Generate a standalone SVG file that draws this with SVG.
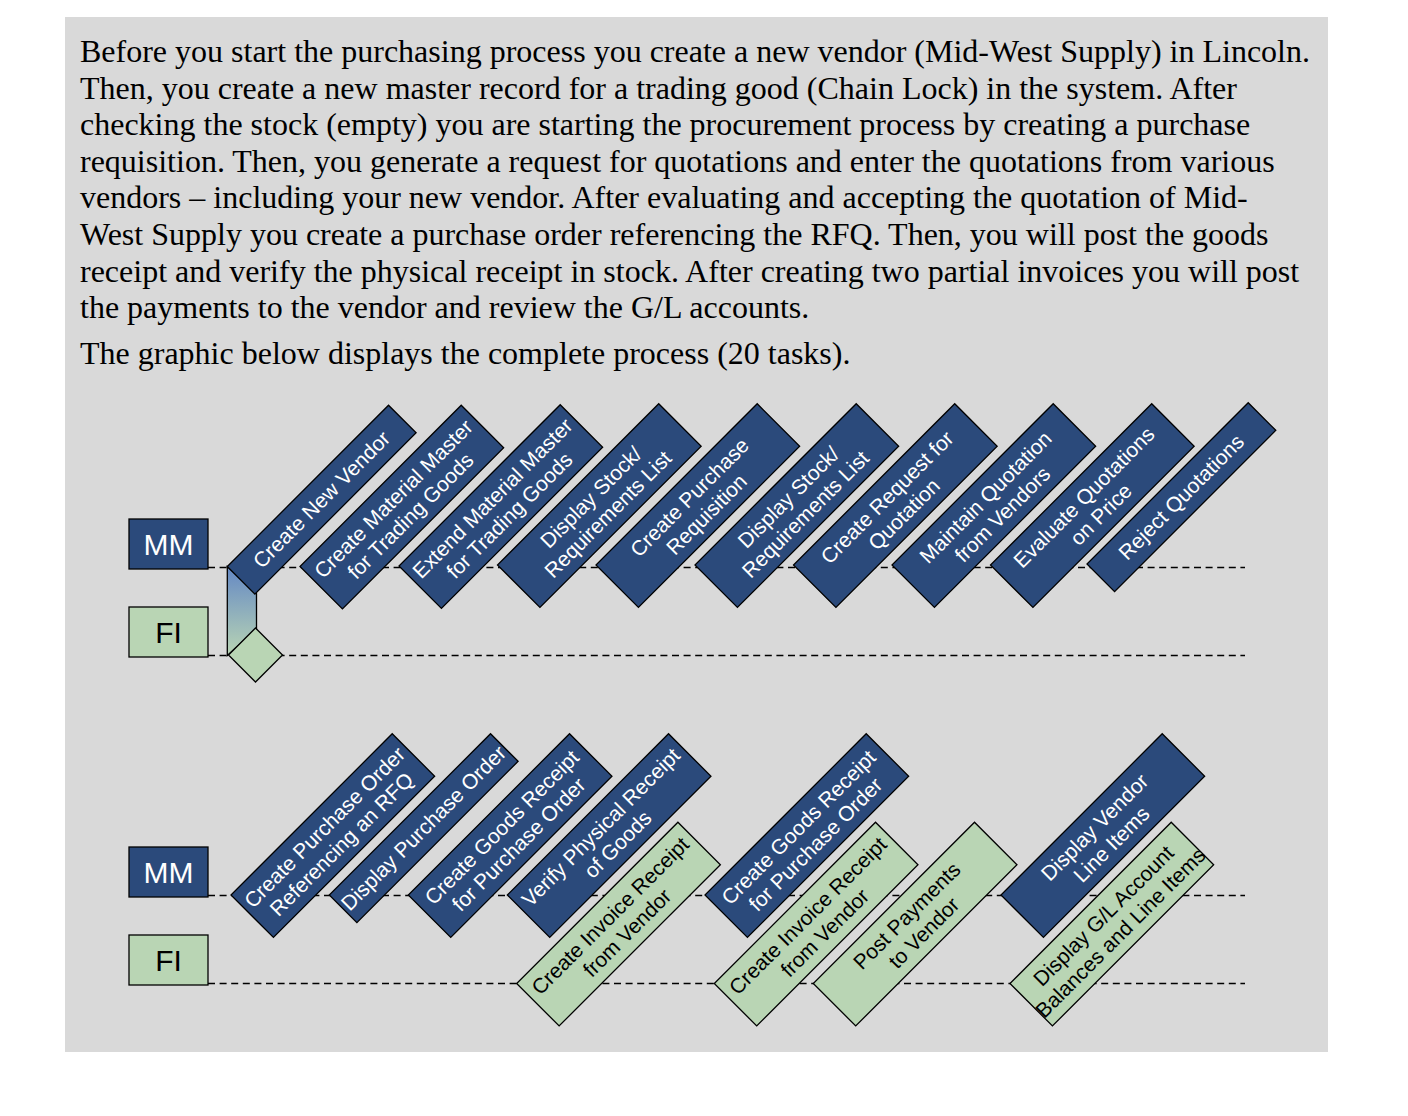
<svg xmlns="http://www.w3.org/2000/svg" width="1408" height="1116" viewBox="0 0 1408 1116">
<defs>
<linearGradient id="grad" x1="0" y1="0" x2="0" y2="1">
<stop offset="0" stop-color="#6488c4"/>
<stop offset="1" stop-color="#b9d5b4"/>
</linearGradient>
<style>
.para{font-family:"Liberation Serif","Times New Roman",serif;font-size:32px;fill:#000}
.lane{stroke:#000;stroke-width:1.3;stroke-dasharray:7 4.6;fill:none}
.blue{fill:#2b4a7b;stroke:#000;stroke-width:1.3}
.green{fill:#b9d5b4;stroke:#000;stroke-width:1.3}
.tw{font-family:"Liberation Sans",Arial,sans-serif;font-size:21px;fill:#fff;text-anchor:middle}
.tb{font-family:"Liberation Sans",Arial,sans-serif;font-size:21px;fill:#000;text-anchor:middle}
.lbl{font-family:"Liberation Sans",Arial,sans-serif;font-size:30px;text-anchor:middle}
</style>
</defs>
<rect x="0" y="0" width="1408" height="1116" fill="#fff"/>
<rect x="65" y="17" width="1263" height="1035" fill="#d9d9d9"/>
<g id="description">
<text class="para" x="80" y="62">Before you start the purchasing process you create a new vendor (Mid-West Supply) in Lincoln.</text>
<text class="para" x="80" y="98.6">Then, you create a new master record for a trading good (Chain Lock) in the system. After</text>
<text class="para" x="80" y="135.2">checking the stock (empty) you are starting the procurement process by creating a purchase</text>
<text class="para" x="80" y="171.8">requisition. Then, you generate a request for quotations and enter the quotations from various</text>
<text class="para" x="80" y="208.4">vendors – including your new vendor. After evaluating and accepting the quotation of Mid-</text>
<text class="para" x="80" y="245">West Supply you create a purchase order referencing the RFQ. Then, you will post the goods</text>
<text class="para" x="80" y="281.6">receipt and verify the physical receipt in stock. After creating two partial invoices you will post</text>
<text class="para" x="80" y="318.2">the payments to the vendor and review the G/L accounts.</text>
<text class="para" x="80" y="363.5">The graphic below displays the complete process (20 tasks).</text>
</g>
<g id="lanes">
<line class="lane" x1="208" y1="567.5" x2="1245" y2="567.5"/>
<line class="lane" x1="208" y1="655.5" x2="1245" y2="655.5"/>
<line class="lane" x1="208" y1="895.5" x2="1245" y2="895.5"/>
<line class="lane" x1="208" y1="983.5" x2="1245" y2="983.5"/>
</g>
<g id="lane-labels">
<g id="lbl-mm1"><rect class="blue" x="129" y="519" width="79" height="50"/><text class="lbl" x="168.5" y="555" fill="#fff">MM</text></g>
<g id="lbl-fi1"><rect class="green" x="129" y="607" width="79" height="50"/><text class="lbl" x="168.5" y="643" fill="#000">FI</text></g>
<g id="lbl-mm2"><rect class="blue" x="129" y="847" width="79" height="50"/><text class="lbl" x="168.5" y="883" fill="#fff">MM</text></g>
<g id="lbl-fi2"><rect class="green" x="129" y="935" width="79" height="50"/><text class="lbl" x="168.5" y="971" fill="#000">FI</text></g>
</g>
<g id="connectors">
<polygon points="227.3,566.5 256.5,593.5 256.5,629 227.3,655.5" fill="url(#grad)" stroke="#000" stroke-width="1.3"/>
</g>
<g id="nodes">
<g id="t01" transform="translate(227.3,566.5) rotate(-45)"><rect class="blue" width="228" height="39"/><text class="tw" x="114" y="26.5">Create New Vendor</text></g>
<g id="t02" transform="translate(300,566.5) rotate(-45)"><rect class="blue" width="228" height="60"/><text class="tw" x="114" y="25.5">Create Material Master</text><text class="tw" x="114" y="49.5">for Trading Goods</text></g>
<g id="t03" transform="translate(399,566) rotate(-45)"><rect class="blue" width="228" height="60"/><text class="tw" x="114" y="25.5">Extend Material Master</text><text class="tw" x="114" y="49.5">for Trading Goods</text></g>
<g id="t04" transform="translate(497.5,565) rotate(-45)"><rect class="blue" width="228" height="60"/><text class="tw" x="114" y="25.5">Display Stock/</text><text class="tw" x="114" y="49.5">Requirements List</text></g>
<g id="t05" transform="translate(596,565) rotate(-45)"><rect class="blue" width="228" height="60"/><text class="tw" x="114" y="25.5">Create Purchase</text><text class="tw" x="114" y="49.5">Requisition</text></g>
<g id="t06" transform="translate(695,565) rotate(-45)"><rect class="blue" width="228" height="60"/><text class="tw" x="114" y="25.5">Display Stock/</text><text class="tw" x="114" y="49.5">Requirements List</text></g>
<g id="t07" transform="translate(793.5,565) rotate(-45)"><rect class="blue" width="228" height="60"/><text class="tw" x="114" y="25.5">Create Request for</text><text class="tw" x="114" y="49.5">Quotation</text></g>
<g id="t08" transform="translate(892,565) rotate(-45)"><rect class="blue" width="228" height="60"/><text class="tw" x="114" y="25.5">Maintain Quotation</text><text class="tw" x="114" y="49.5">from Vendors</text></g>
<g id="t09" transform="translate(990.5,565) rotate(-45)"><rect class="blue" width="228" height="60"/><text class="tw" x="114" y="25.5">Evaluate Quotations</text><text class="tw" x="114" y="49.5">on Price</text></g>
<g id="t10" transform="translate(1087,564) rotate(-45)"><rect class="blue" width="228" height="39"/><text class="tw" x="114" y="26.5">Reject Quotations</text></g>
<g id="event1"><polygon class="green" points="255.5,628 282.5,655 255.5,682 228.5,655"/></g>
<g id="t11" transform="translate(231,895) rotate(-45)"><rect class="blue" width="228" height="60"/><text class="tw" x="114" y="25.5">Create Purchase Order</text><text class="tw" x="114" y="49.5">Referencing an RFQ</text></g>
<g id="t12" transform="translate(329.3,895) rotate(-45)"><rect class="blue" width="228" height="39"/><text class="tw" x="114" y="26.5">Display Purchase Order</text></g>
<g id="t13" transform="translate(408.3,895) rotate(-45)"><rect class="blue" width="228" height="60"/><text class="tw" x="114" y="25.5">Create Goods Receipt</text><text class="tw" x="114" y="49.5">for Purchase Order</text></g>
<g id="t14" transform="translate(507.3,895) rotate(-45)"><rect class="blue" width="228" height="60"/><text class="tw" x="114" y="25.5">Verify Physical Receipt</text><text class="tw" x="114" y="49.5">of Goods</text></g>
<g id="t15" transform="translate(516.7,983.5) rotate(-45)"><rect class="green" width="228" height="60"/><text class="tb" x="114" y="25.5">Create Invoice Receipt</text><text class="tb" x="114" y="49.5">from Vendor</text></g>
<g id="t16" transform="translate(705,895) rotate(-45)"><rect class="blue" width="228" height="60"/><text class="tw" x="114" y="25.5">Create Goods Receipt</text><text class="tw" x="114" y="49.5">for Purchase Order</text></g>
<g id="t17" transform="translate(714.3,983.5) rotate(-45)"><rect class="green" width="228" height="60"/><text class="tb" x="114" y="25.5">Create Invoice Receipt</text><text class="tb" x="114" y="49.5">from Vendor</text></g>
<g id="t18" transform="translate(813.3,983.5) rotate(-45)"><rect class="green" width="228" height="60"/><text class="tb" x="114" y="25.5">Post Payments</text><text class="tb" x="114" y="49.5">to Vendor</text></g>
<g id="t19" transform="translate(1001,895) rotate(-45)"><rect class="blue" width="228" height="60"/><text class="tw" x="114" y="25.5">Display Vendor</text><text class="tw" x="114" y="49.5">Line Items</text></g>
<g id="t20" transform="translate(1010,983.5) rotate(-45)"><rect class="green" width="228" height="60"/><text class="tb" x="114" y="25.5">Display G/L Account</text><text class="tb" x="114" y="49.5">Balances and Line Items</text></g>
</g>
</svg>
